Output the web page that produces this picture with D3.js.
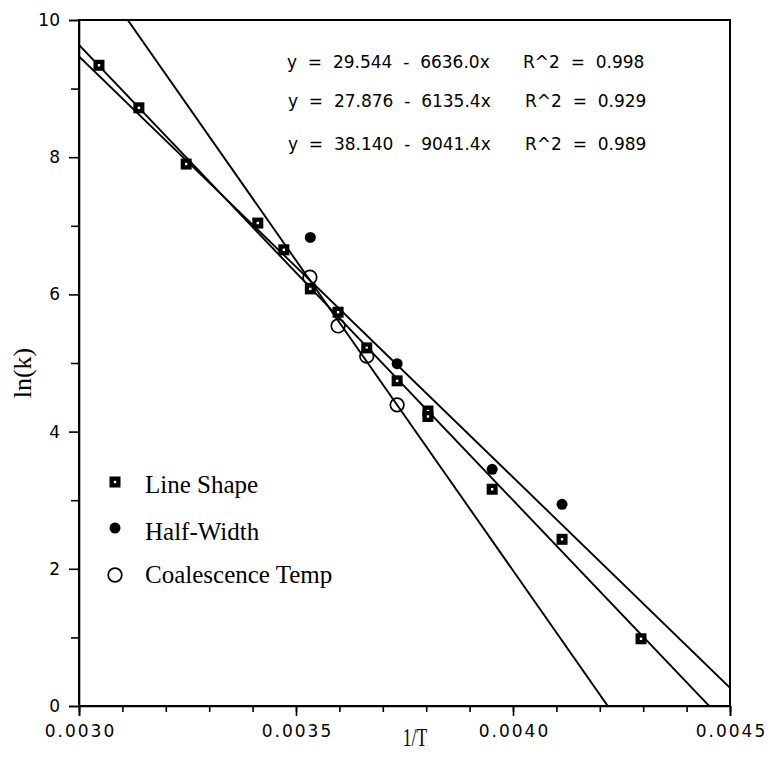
<!DOCTYPE html>
<html>
<head>
<meta charset="utf-8">
<script src="https://cdn.jsdelivr.net/npm/d3@7"></script>
<style>
  body { margin: 0; background: #fff; }
  svg { display: block; }
  .tick text { font-family: "DejaVu Sans", sans-serif; font-size: 17px; fill: #000; }
  .axis path, .axis line { stroke: #000; stroke-width: 1.6; }
</style>
</head>
<body>
<svg width="768" height="759"></svg>
<script>
// data
var lineShapeX = [0.003046, 0.003138, 0.003247, 0.003412, 0.003472, 0.003533, 0.003597, 0.003663, 0.003733, 0.003804, 0.003804, 0.003952, 0.004113, 0.004295];
var lineShapeY = [9.34, 8.72, 7.90, 7.04, 6.65, 6.08, 5.74, 5.22, 4.74, 4.30, 4.22, 3.16, 2.43, 0.98];
var halfWidthX = [0.003533, 0.003733, 0.003952, 0.004113];
var halfWidthY = [6.83, 4.99, 3.45, 2.94];
var coalX = [0.003532, 0.003597, 0.003663, 0.003733];
var coalY = [6.25, 5.54, 5.10, 4.39];

// regression lines: y = a + b*x
var fitA = [29.544, 27.876, 38.140];
var fitB = [-6636.0, -6135.4, -9041.4];
var fitEq = ["y  =  29.544  -  6636.0x", "y  =  27.876  -  6135.4x", "y  =  38.140  -  9041.4x"];
var fitR2 = ["R^2  =  0.998", "R^2  =  0.929", "R^2  =  0.989"];

var legendLabels = ["Line Shape", "Half-Width", "Coalescence Temp"];
var xTicks = [0.0030, 0.0035, 0.0040, 0.0045];
var yTicks = [0, 2, 4, 6, 8, 10];

var svg = d3.select("svg");
var margin = {top: 20, right: 38, bottom: 53, left: 79};
var width = +svg.attr("width") - margin.left - margin.right;
var height = +svg.attr("height") - margin.top - margin.bottom;
var g = svg.append("g").attr("transform", "translate(" + margin.left + "," + margin.top + ")");

var x = d3.scaleLinear().domain([0.003, 0.0045]).range([0, width]);
var y = d3.scaleLinear().domain([0, 10]).range([height, 0]);

g.append("clipPath").attr("id", "clip")
  .append("rect").attr("width", width).attr("height", height);

// minor ticks
var xMinor = d3.range(0, 16).map(function(i) { return 0.003 + i * 0.0001; });
g.append("g")
  .attr("class", "axis")
  .attr("transform", "translate(0," + height + ")")
  .call(d3.axisBottom(x).tickValues(xMinor).tickSize(6).tickFormat(""))
  .select(".domain").remove();
g.append("g")
  .attr("class", "axis")
  .call(d3.axisLeft(y).tickValues([1, 3, 5, 7, 9]).tickSize(8).tickFormat(""))
  .select(".domain").remove();

// major ticks
g.append("g")
  .attr("class", "axis")
  .attr("transform", "translate(0," + height + ")")
  .call(d3.axisBottom(x).tickValues(xTicks).tickSize(10).tickPadding(9).tickFormat(d3.format(".4f")))
  .selectAll("text").attr("letter-spacing", "2px").attr("dx", "1px");
g.append("g")
  .attr("class", "axis")
  .call(d3.axisLeft(y).tickValues(yTicks).tickSize(10).tickPadding(9));

// frame
g.append("rect")
  .attr("width", width)
  .attr("height", height)
  .attr("fill", "none")
  .attr("stroke", "#000")
  .attr("stroke-width", 2);

// fit lines
var lines = g.append("g").attr("clip-path", "url(#clip)");
fitA.forEach(function(a, i) {
  var x0 = 0.003, x1 = 0.0045;
  lines.append("line")
    .attr("x1", x(x0)).attr("y1", y(a + fitB[i] * x0))
    .attr("x2", x(x1)).attr("y2", y(a + fitB[i] * x1))
    .attr("stroke", "#000")
    .attr("stroke-width", 1.9);
});

// markers
function drawSquare(sel, px, py) {
  sel.append("rect").attr("x", px - 5.5).attr("y", py - 5.5).attr("width", 11).attr("height", 11).attr("fill", "#000");
  sel.append("rect").attr("x", px - 1.2).attr("y", py - 1.2).attr("width", 2.4).attr("height", 2.4).attr("fill", "#fff");
}
var marks = g.append("g");
lineShapeX.forEach(function(v, i) { drawSquare(marks, x(v), y(lineShapeY[i])); });
halfWidthX.forEach(function(v, i) {
  marks.append("circle").attr("cx", x(v)).attr("cy", y(halfWidthY[i])).attr("r", 5.5).attr("fill", "#000");
});
coalX.forEach(function(v, i) {
  marks.append("circle").attr("cx", x(v)).attr("cy", y(coalY[i])).attr("r", 6.8)
    .attr("fill", "none").attr("stroke", "#000").attr("stroke-width", 1.7);
});

// equations
var eq = g.append("g")
  .attr("font-family", "DejaVu Sans, sans-serif")
  .attr("font-size", 17)
  .attr("fill", "#000");
fitEq.forEach(function(t, i) {
  var ty = [48, 87, 130][i];
  eq.append("text").attr("x", 208 + (i ? 1 : 0)).attr("y", ty)
    .style("white-space", "pre").text(t);
  eq.append("text").attr("x", 444 + (i ? 2 : 0)).attr("y", ty)
    .style("white-space", "pre").text(fitR2[i]);
});

// legend
var legend = g.append("g")
  .attr("font-family", "Liberation Serif, Times New Roman, serif")
  .attr("font-size", 25)
  .attr("fill", "#000");
var markY = [462, 508, 555];
var textY = [473, 520, 563];
drawSquare(legend, 36, markY[0]);
legend.append("circle").attr("cx", 36).attr("cy", markY[1]).attr("r", 5.5).attr("fill", "#000");
legend.append("circle").attr("cx", 36).attr("cy", markY[2]).attr("r", 6.8)
  .attr("fill", "none").attr("stroke", "#000").attr("stroke-width", 1.7);
legendLabels.forEach(function(d, i) {
  legend.append("text").attr("x", 66).attr("y", textY[i]).text(d);
});

// axis titles
svg.append("text")
  .attr("transform", "translate(415,746) scale(0.7,1)")
  .attr("text-anchor", "middle")
  .attr("font-family", "Liberation Serif, Times New Roman, serif")
  .attr("font-size", 25)
  .text("1/T");
svg.append("text")
  .attr("transform", "translate(31,373) rotate(-90)")
  .attr("text-anchor", "middle")
  .attr("font-family", "Liberation Serif, Times New Roman, serif")
  .attr("font-size", 26)
  .text("ln(k)");
</script>
</body>
</html>
